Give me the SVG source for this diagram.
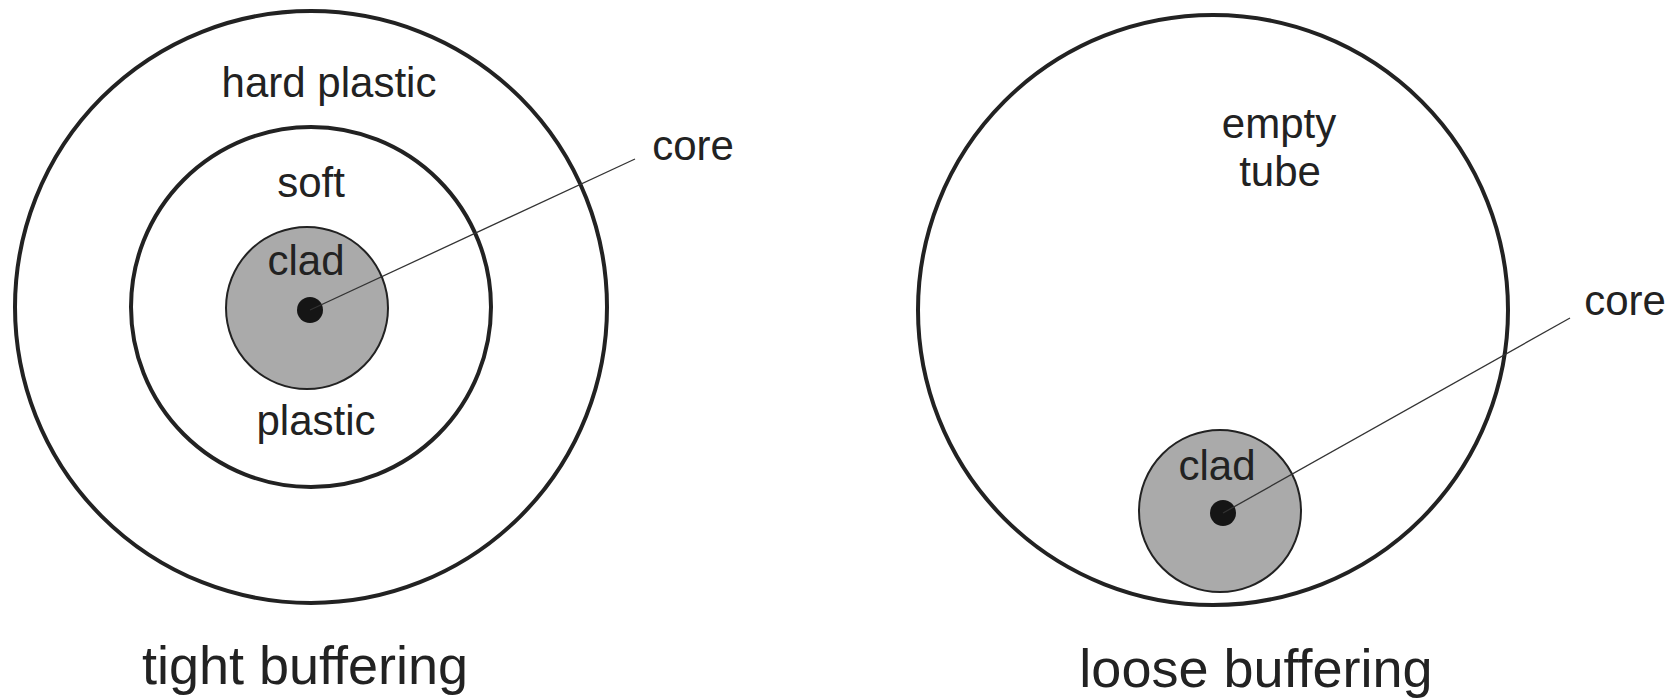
<svg xmlns="http://www.w3.org/2000/svg" width="1677" height="698" viewBox="0 0 1677 698">
<style>
.ring{fill:none;stroke:#222;stroke-width:4}
.clad{fill:#aaaaaa;stroke:#222;stroke-width:2}
.dot{fill:#151515}
.lead{stroke:#333;stroke-width:1.3;fill:none}
.t{font-family:"Liberation Sans",Arial,sans-serif;font-size:42px;fill:#222;text-anchor:middle}
.cap{font-family:"Liberation Sans",Arial,sans-serif;font-size:54px;fill:#222;text-anchor:middle}
</style>
<rect width="1677" height="698" fill="#fff"/>
<g id="tight">
  <circle class="ring" cx="311" cy="307" r="296"/>
  <circle class="ring" cx="311" cy="307" r="180"/>
  <circle class="clad" cx="307" cy="308" r="81"/>
  <circle class="dot" cx="310" cy="310" r="13"/>
  <text class="t" x="329" y="97">hard plastic</text>
  <text class="t" x="311" y="197">soft</text>
  <text class="t" x="306" y="275">clad</text>
  <text class="t" x="316" y="435">plastic</text>
  <text class="t" x="693" y="160">core</text>
  <text class="cap" x="305" y="684">tight buffering</text>
</g>
<g id="loose">
  <circle class="ring" cx="1213" cy="310" r="295"/>
  <circle class="clad" cx="1220" cy="511" r="81"/>
  <circle class="dot" cx="1223" cy="513" r="13"/>
  <text class="t" x="1279" y="138">empty</text>
  <text class="t" x="1280" y="186">tube</text>
  <text class="t" x="1217" y="480">clad</text>
  <text class="t" x="1625" y="315">core</text>
  <text class="cap" x="1256" y="687">loose buffering</text>
</g>
<g id="connectors">
  <line class="lead" x1="310" y1="310" x2="635" y2="159"/>
  <line class="lead" x1="1223" y1="513" x2="1570" y2="318"/>
</g>
</svg>
